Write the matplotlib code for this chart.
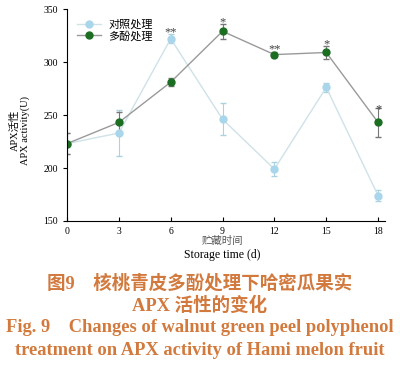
import matplotlib
matplotlib.use('Agg')
from matplotlib import pyplot as plt

days = [0, 3, 6, 9, 12, 15, 18]
control = [223, 233, 322, 246, 199, 276, 174]
control_err = [10, 22, 4, 15, 7, 4, 5]
treated = [223, 243, 281, 329, 307, 309, 243]
treated_err = [10, 10, 4, 7, 2, 6, 14]
marks = ['', '', '**', '*', '**', '*', '*']
mark_y = [0, 0, 328, 337, 312, 317, 255]

label_control = '对照处理'
label_treated = '多酚处理'
caption = ['图9　核桃青皮多酚处理下哈密瓜果实', 'APX 活性的变化',
           'Fig. 9　Changes of walnut green peel polyphenol',
           'treatment on APX activity of Hami melon fruit']

serif = ['Liberation Serif', 'Noto Sans CJK SC']
cjk = ['Noto Sans CJK SC', 'Liberation Serif']
cap_color = '#d27a3e'

fig = plt.figure(figsize=(4, 3.84), dpi=100)
ax = fig.add_axes([0.1675, 0.4245, 0.795, 0.552])

c1 = ax.errorbar(days, control, yerr=control_err, color='#cfe2e8', ecolor='#a9d3e0',
                 marker='o', markersize=5, markerfacecolor='#a9d6ea',
                 markeredgecolor='#a9d6ea', lw=1, elinewidth=0.8, capsize=2)
c2 = ax.errorbar(days, treated, yerr=treated_err, color='#9a9a9a', ecolor='#777777',
                 marker='o', markersize=5, markerfacecolor='#1c6e23',
                 markeredgecolor='#1c6e23', lw=1, elinewidth=0.8, capsize=2)

for d, m, y in zip(days, marks, mark_y):
    if m:
        ax.text(d, y, m, ha='center', va='center', fontsize=9, color='#444444',
                family=serif)

ax.set_xlim(0, 18.4)
ax.set_ylim(150, 350)
ax.set_xticks(days)
ax.set_yticks([150, 200, 250, 300, 350])
ax.spines['top'].set_visible(False)
ax.spines['right'].set_visible(False)
ax.tick_params(axis='x', direction='in', length=3, labelsize=7, pad=4)
ax.tick_params(axis='y', direction='out', length=3, labelsize=7)
for t in ax.get_xticklabels() + ax.get_yticklabels():
    t.set_family(serif)

# legend shows only line + marker, no error bars
ax.legend([c1.lines[0], c2.lines[0]], [label_control, label_treated],
          loc='upper left', bbox_to_anchor=(0.0, 1.0), frameon=False,
          prop={'family': cjk, 'size': 8}, handlelength=2.2,
          handletextpad=0.6, labelspacing=0.1, borderaxespad=0.5)

fig.text(0.05, 0.66, 'APX活性\nAPX activity(U)', rotation=90, ha='center',
         va='center', fontsize=7.5, family=serif, linespacing=1.0)
fig.text(0.555, 0.372, '贮藏时间', ha='center', va='center', fontsize=7.5,
         family=cjk, color='#555555')
fig.text(0.555, 0.337, 'Storage time (d)', ha='center', va='center',
         fontsize=8.5, family=serif)

cap_y = [0.262, 0.205, 0.146, 0.086]
for txt, y in zip(caption, cap_y):
    fig.text(0.5, y, txt, ha='center', va='center', fontsize=13.3,
             fontweight='bold', color=cap_color, family=serif)

plt.savefig('out.png', dpi=100)
